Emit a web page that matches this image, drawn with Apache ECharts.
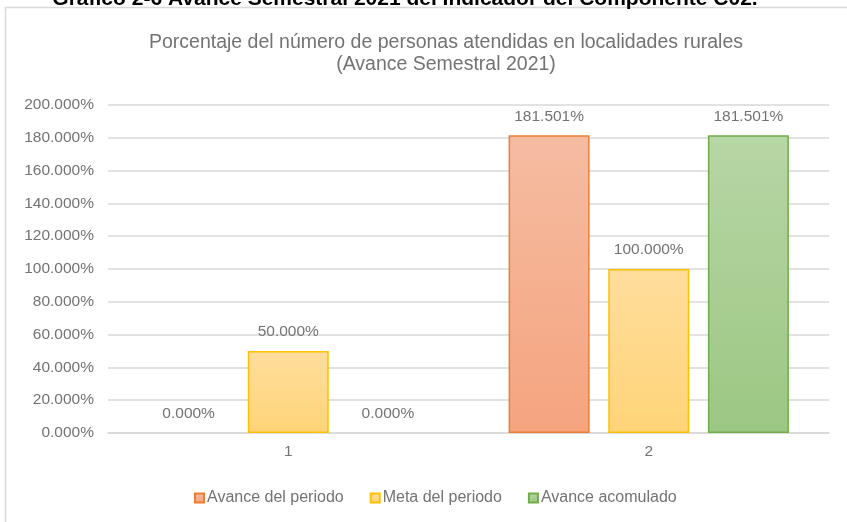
<!DOCTYPE html>
<html>
<head>
<meta charset="utf-8">
<script src="https://cdn.jsdelivr.net/npm/echarts@6/dist/echarts.min.js"></script>
<style>
	html, body { margin: 0; padding: 0; background: #fff; }
	#chart { width: 847px; height: 522px; }
</style>
</head>
<body>
<div id="chart"></div>
<script>
var categories = ['1', '2']
var avancePeriodo = [0, 181.501]
var metaPeriodo = [50, 100]
var avanceAcumulado = [0, 181.501]
var seriesNames = ['Avance del periodo', 'Meta del periodo', 'Avance acomulado']
var yTicks = { min: 0, max: 200, interval: 20 }

function grad(top, bottom) {
	return new echarts.graphic.LinearGradient(0, 0, 0, 1, [
		{ offset: 0, color: top },
		{ offset: 1, color: bottom }
	])
}

function pct(v) {
	return Number(v).toFixed(3) + '%'
}

// zero bars have no visible outline in the original
function toData(values) {
	return values.map(function (v) {
		return v === 0 ? { value: v, itemStyle: { borderWidth: 0 } } : v
	})
}

function renderChart() {
	var myChart = echarts.init(document.getElementById('chart'))
	var font = 'Liberation Sans, Arial, sans-serif'
	var txt = '#737373'
	var labelCfg = {
		show: true,
		position: 'top',
		distance: 11,
		color: txt,
		fontSize: 15.5,
		fontFamily: font,
		formatter: function (p) { return pct(p.value) }
	}
	var option = {
		backgroundColor: '#fff',
		animation: false,
		title: {
			text: 'Porcentaje del número de personas atendidas en localidades rurales\n(Avance Semestral 2021)',
			left: 441,
			top: 27,
			textAlign: 'center',
			textStyle: {
				color: txt,
				fontSize: 19.5,
				fontWeight: 'normal',
				fontFamily: font,
				lineHeight: 22
			}
		},
		graphic: [
			{
				type: 'rect',
				silent: true,
				shape: { x: 5.5, y: 7.5, width: 900, height: 600 },
				style: { fill: 'none', stroke: '#d9d9d9', lineWidth: 1.5 }
			},
			{
				type: 'text',
				silent: true,
				x: 405,
				y: 10,
				style: {
					text: 'Gráfico 2-6 Avance Semestral 2021 del Indicador del Componente C02.',
					fill: '#000',
					font: 'bold 21px ' + font,
					textAlign: 'center',
					textVerticalAlign: 'bottom'
				}
			}
		],
		legend: {
			data: seriesNames,
			left: 189,
			top: 485,
			icon: 'rect',
			itemWidth: 9,
			itemHeight: 9,
			itemGap: 26,
			textStyle: {
				color: txt,
				fontSize: 16,
				fontFamily: font,
				padding: [0, 0, 0, -2]
			}
		},
		grid: {
			left: 108,
			right: 18,
			top: 105,
			bottom: 89
		},
		xAxis: {
			type: 'category',
			data: categories,
			axisTick: { show: false },
			axisLine: { lineStyle: { color: '#d9d9d9', width: 1.5 } },
			axisLabel: {
				color: txt,
				fontSize: 15.5,
				fontFamily: font,
				margin: 11
			}
		},
		yAxis: {
			type: 'value',
			min: yTicks.min,
			max: yTicks.max,
			interval: yTicks.interval,
			axisLine: { show: false },
			axisTick: { show: false },
			splitLine: { lineStyle: { color: '#d9d9d9', width: 1.5 } },
			axisLabel: {
				color: txt,
				fontSize: 15.5,
				fontFamily: font,
				margin: 14,
				formatter: pct
			}
		},
		series: [
			{
				name: seriesNames[0],
				type: 'bar',
				barWidth: 81,
				barGap: '23%',
				data: toData(avancePeriodo),
				label: labelCfg,
				itemStyle: {
					color: grad('#f5bca2', '#f5a47e'),
					borderColor: '#ed7d31',
					borderWidth: 1.5
				}
			},
			{
				name: seriesNames[1],
				type: 'bar',
				barWidth: 81,
				barGap: '23%',
				data: toData(metaPeriodo),
				label: labelCfg,
				itemStyle: {
					color: grad('#ffdd9c', '#ffd478'),
					borderColor: '#ffc000',
					borderWidth: 1.5
				}
			},
			{
				name: seriesNames[2],
				type: 'bar',
				barWidth: 81,
				barGap: '23%',
				data: toData(avanceAcumulado),
				label: labelCfg,
				itemStyle: {
					color: grad('#b7d6a5', '#9cc783'),
					borderColor: '#70ad47',
					borderWidth: 1.5
				}
			}
		]
	}
	myChart.setOption(option)
}

renderChart()
</script>
</body>
</html>
